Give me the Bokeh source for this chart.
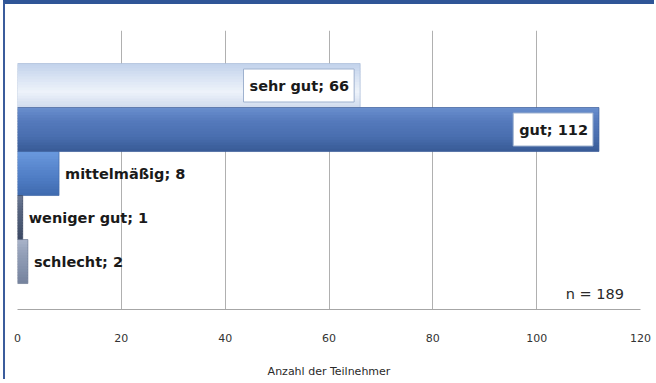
from bokeh.plotting import figure
from bokeh.models import Range1d, ColumnDataSource, SingleIntervalTicker, Label
from bokeh.transform import dodge
from bokeh.embed import file_html
from bokeh.resources import INLINE
from bokeh.core.properties import value

# Survey answers (top to bottom as shown)
categories = ["sehr gut", "gut", "mittelmäßig", "weniger gut", "schlecht"]
counts = [66, 112, 8, 1, 2]
n_total = 189
x_ticks = [0, 20, 40, 60, 80, 100, 120]
axis_title = "Anzahl der Teilnehmer"

# gradient stops per bar (top -> bottom)
bar_stops = [
    ["#c0d1ea", "#d8e3f3", "#eef3fa", "#d0dbed"],
    ["#6b90cf", "#5479bb", "#4a6fb0", "#385a96"],
    ["#6c9bdf", "#5b89d0", "#4d7bc2", "#3f6aae"],
    ["#6d7a96", "#56647f", "#4a5873", "#3c4963"],
    ["#aab5ca", "#939fb8", "#8592ac", "#75829d"],
]
outline_colors = ["#a9bbd8", "#3d5e9a", "#4269a8", "#3c4963", "#6f7c96"]
FONT = "DejaVu Sans"


def hex_to_rgb(h):
    h = h.lstrip("#")
    return [int(h[i:i + 2], 16) for i in (0, 2, 4)]


def blend(stops, t):
    seg = t * (len(stops) - 1)
    i = min(int(seg), len(stops) - 2)
    f = seg - i
    a, b = hex_to_rgb(stops[i]), hex_to_rgb(stops[i + 1])
    c = [round(a[k] + (b[k] - a[k]) * f) for k in range(3)]
    return "#%02x%02x%02x" % tuple(c)


n = len(categories)
ypos = [n - i for i in range(n)]

W, H = 656, 383
BORDER_TOP, BORDER_LEFT, GAP_LEFT = 4, 2, 3
p = figure(width=W - GAP_LEFT - BORDER_LEFT, height=H - BORDER_TOP,
           output_backend="svg", toolbar_location=None,
           x_range=Range1d(0, 120), y_range=Range1d(-0.09, 6.25),
           min_border_left=17 - GAP_LEFT - BORDER_LEFT, min_border_right=16,
           min_border_top=30 - BORDER_TOP, min_border_bottom=74)
# blue band along the top, thin blue rule on the left
p.styles = {"border-top": "%dpx solid #2f5597" % BORDER_TOP,
            "border-left": "%dpx solid #3b5c9c" % BORDER_LEFT,
            "margin-left": "%dpx" % GAP_LEFT}
p.outline_line_color = None
p.background_fill_color = "white"
p.border_fill_color = "white"
p.yaxis.visible = False
p.ygrid.grid_line_color = None

xa = p.xaxis[0]
xa.ticker = SingleIntervalTicker(interval=20)
xa.major_tick_line_color = None
xa.minor_tick_line_color = None
xa.axis_line_color = "#a6a6a6"
xa.major_label_text_font = FONT
xa.major_label_text_font_size = "11px"
xa.major_label_text_color = "#333333"
xa.major_label_standoff = 18
xa.axis_label = axis_title
xa.axis_label_text_font = FONT
xa.axis_label_text_font_size = "11px"
xa.axis_label_text_font_style = "normal"
xa.axis_label_text_color = "#2a2a2a"
xa.axis_label_standoff = 20
p.xgrid.ticker = SingleIntervalTicker(interval=20)
p.xgrid.grid_line_color = "#b0b0b0"

# gradient bars: stacked thin overlapping strips
strips = 16
sh = 1.0 / strips
src = ColumnDataSource(dict(y=ypos, v=counts, cat=categories))
for k in range(strips):
    t = (k + 0.5) / strips
    off = 0.5 - t  # top strip first
    h = sh * 1.6 if 0 < k < strips - 1 else sh
    src.data["c%d" % k] = [blend(s, t) for s in bar_stops]
    p.hbar(y=dodge("y", off, range=p.y_range), right="v", left=0, height=h,
           fill_color="c%d" % k, line_color=None, source=src)
src.data["oc"] = outline_colors
p.hbar(y="y", right="v", left=0, height=1.0, fill_color=None, line_color="oc",
       line_width=1, line_alpha=0.7, source=src)

# value labels
inside = [i for i in range(n) if counts[i] >= 30]
outside = [i for i in range(n) if counts[i] < 30]
lab_in = ColumnDataSource(dict(x=[counts[i] for i in inside], y=[ypos[i] for i in inside],
                               t=["%s; %d" % (categories[i], counts[i]) for i in inside]))
lab_out = ColumnDataSource(dict(x=[counts[i] for i in outside], y=[ypos[i] for i in outside],
                                t=["%s; %d" % (categories[i], counts[i]) for i in outside]))
p.text(x="x", y="y", text="t", source=lab_in, text_align="right", text_baseline="middle",
       x_offset=-6, text_font=value(FONT), text_font_style="bold", text_font_size="14.5px",
       text_color="#1a1a1a", background_fill_color="white", border_line_color="#9fb2cf",
       padding=dict(left=6, right=5, top=9, bottom=8))
p.text(x="x", y="y", text="t", source=lab_out, text_align="left", text_baseline="middle",
       x_offset=6, text_font=value(FONT), text_font_style="bold", text_font_size="14.5px",
       text_color="#1a1a1a")

p.add_layout(Label(x=116.8, y=0.27, text="n = %d" % n_total, text_align="right",
                   text_baseline="middle", text_font=FONT, text_font_size="14.5px",
                   text_color="#2a2a2a"))

open("out.html", "w").write(file_html(p, INLINE))
